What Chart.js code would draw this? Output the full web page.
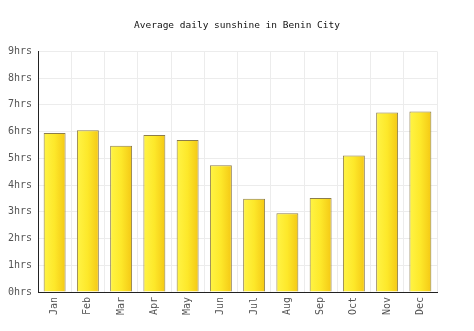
<!DOCTYPE html>
<html>
<head>
<meta charset="utf-8">
<script src="https://cdn.jsdelivr.net/npm/chart.js@4/dist/chart.umd.min.js"></script>
<style>
  html, body { margin: 0; padding: 0; background: #fff; }
  #wrap { width: 474px; height: 331px; }
</style>
</head>
<body>
<div id="wrap"><canvas id="c" width="474" height="331"></canvas></div>
<script>
const months = ['Jan', 'Feb', 'Mar', 'Apr', 'May', 'Jun', 'Jul', 'Aug', 'Sep', 'Oct', 'Nov', 'Dec'];
const sunshineHours = [5.95, 6.05, 5.47, 5.87, 5.69, 4.74, 3.49, 2.95, 3.52, 5.11, 6.71, 6.75];
const hourTicks = [0, 1, 2, 3, 4, 5, 6, 7, 8, 9];

const FONT = "'DejaVu Sans Mono', 'Liberation Mono', monospace";
const BAR_PCT = 0.66;

// Horizontal gold gradient spanning each bar
function barGradient(ctx) {
  const chart = ctx.chart;
  const xs = chart.scales.x;
  if (!xs || ctx.dataIndex === undefined) return '#fbe022';
  const cx = xs.getPixelForValue(ctx.dataIndex);
  const half = (xs.width / months.length) * BAR_PCT / 2;
  if (!isFinite(cx) || !isFinite(half) || half <= 0) return '#fbe022';
  const g = chart.ctx.createLinearGradient(cx - half, 0, cx + half, 0);
  g.addColorStop(0, '#fff446');
  g.addColorStop(0.5, '#fde82a');
  g.addColorStop(1, '#f4c815');
  return g;
}

new Chart(document.getElementById('c'), {
  type: 'bar',
  data: {
    labels: months,
    datasets: [{
      data: sunshineHours,
      backgroundColor: barGradient,
      borderColor: '#8c7d4c',
      borderWidth: 1,
      borderSkipped: 'bottom',
      barPercentage: BAR_PCT,
      categoryPercentage: 1
    }]
  },
  options: {
    responsive: false,
    animation: false,
    layout: { padding: 0 },
    plugins: {
      legend: { display: false },
      tooltip: { enabled: false },
      title: {
        display: true,
        text: 'Average daily sunshine in Benin City',
        color: '#111',
        font: { family: FONT, size: 9.5, weight: 'normal' },
        padding: { top: 20, bottom: 20 }
      }
    },
    scales: {
      x: {
        grid: { color: '#ececec', drawTicks: false, offset: true },
        border: { color: '#222', width: 1 },
        ticks: {
          color: '#555',
          font: { family: FONT, size: 10 },
          minRotation: 90,
          maxRotation: 90,
          padding: 5
        },
        afterFit(scale) { scale.height = 39; }
      },
      y: {
        min: 0,
        max: 9,
        afterBuildTicks(scale) { scale.ticks = hourTicks.map(v => ({ value: v })); },
        grid: { color: '#ececec', drawTicks: false },
        border: { color: '#222', width: 1 },
        ticks: {
          color: '#555',
          font: { family: FONT, size: 10 },
          padding: 6,
          callback: v => v + 'hrs'
        },
        afterFit(scale) { scale.width = 38; }
      },
      // empty margin on the right of the plot
      gutter: {
        type: 'linear',
        position: 'right',
        display: true,
        grid: { display: false, drawTicks: false },
        border: { display: false },
        ticks: { display: false },
        afterFit(scale) { scale.width = 37; }
      }
    }
  }
});
</script>
</body>
</html>
